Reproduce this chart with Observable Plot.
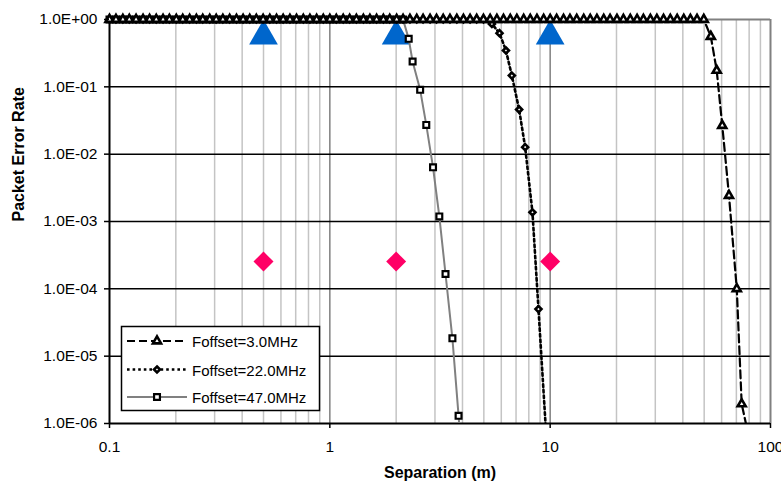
<!DOCTYPE html>
<html><head><meta charset="utf-8">
<script src="https://cdn.jsdelivr.net/npm/d3@7"></script>
<script src="https://cdn.jsdelivr.net/npm/@observablehq/plot@0.6"></script>
<style>
html,body{margin:0;padding:0;background:#fff;overflow:hidden;}
#chart{width:781px;height:486px;position:relative;}
</style></head><body><div id="chart"></div>
<script>
// ---- axis ticks and labels ----
const xTicks = [0.1, 1, 10, 100];
const xTickLabels = ["0.1", "1", "10", "100"];
const xMinor = [0.2,0.3,0.4,0.5,0.6,0.7,0.8,0.9, 2,3,4,5,6,7,8,9, 20,30,40,50,60,70,80,90];
const xMajorGrid = [1, 10];
const yTicks = [1e-6, 1e-5, 1e-4, 1e-3, 1e-2, 1e-1, 1];
const yTickLabels = ["1.0E-06","1.0E-05","1.0E-04","1.0E-03","1.0E-02","1.0E-01","1.0E+00"];
const yGrid = [1e-5, 1e-4, 1e-3, 1e-2, 1e-1];

// ---- series: Foffset = 3.0 MHz ----
const sep3MHz = [0.1,0.107,0.115,0.123,0.132,0.142,0.152,0.163,0.175,0.187,
  0.201,0.215,0.231,0.248,0.265,0.285,0.305,0.327,0.351,0.377,
  0.404,0.433,0.464,0.498,0.534,0.573,0.614,0.659,0.706,0.758,
  0.812,0.871,0.934,1.0,1.07,1.15,1.23,1.32,1.42,1.52,
  1.63,1.75,1.87,2.01,2.15,2.31,2.48,2.65,2.85,3.05,
  3.27,3.51,3.77,4.04,4.33,4.64,4.98,5.34,5.73,6.14,
  6.59,7.06,7.58,8.12,8.71,9.34,10.0,10.7,11.5,12.3,
  13.2,14.2,15.2,16.3,17.5,18.7,20.1,21.5,23.1,24.8,
  26.5,28.5,30.5,32.7,35.1,37.7,40.4,43.3,46.4,49.8,
  53.6,57.0,60.4,64.8,70.3,74.0,79.2];
const per3MHz = [1,1,1,1,1,1,1,1,1,1,
  1,1,1,1,1,1,1,1,1,1,
  1,1,1,1,1,1,1,1,1,1,
  1,1,1,1,1,1,1,1,1,1,
  1,1,1,1,1,1,1,1,1,1,
  1,1,1,1,1,1,1,1,1,1,
  1,1,1,1,1,1,1,1,1,1,
  1,1,1,1,1,1,1,1,1,1,
  1,1,1,1,1,1,1,1,1,1,
  0.559,0.175,0.0266,0.00243,1.0e-4,1.95e-6,7e-7];

// ---- series: Foffset = 22.0 MHz ----
const sep22MHz = [0.1,0.107,0.115,0.123,0.132,0.142,0.152,0.163,0.175,0.187,
  0.201,0.215,0.231,0.248,0.265,0.285,0.305,0.327,0.351,0.377,
  0.404,0.433,0.464,0.498,0.534,0.573,0.614,0.659,0.706,0.758,
  0.812,0.871,0.934,1.0,1.07,1.15,1.23,1.32,1.42,1.52,
  1.63,1.75,1.87,2.01,2.15,2.31,2.48,2.65,2.85,3.05,
  3.27,3.51,3.77,4.04,4.33,4.64,4.98,
  5.44,5.89,6.30,6.70,7.23,7.70,8.31,8.85,9.65];
const per22MHz = [1,1,1,1,1,1,1,1,1,1,
  1,1,1,1,1,1,1,1,1,1,
  1,1,1,1,1,1,1,1,1,1,
  1,1,1,1,1,1,1,1,1,1,
  1,1,1,1,1,1,1,1,1,1,
  1,1,1,1,1,1,1,
  0.86,0.626,0.346,0.147,0.046,0.0127,1.37e-3,5.0e-5,5e-7];

// ---- series: Foffset = 47.0 MHz ----
const sep47MHz = [0.1,0.107,0.115,0.123,0.132,0.142,0.152,0.163,0.175,0.187,
  0.201,0.215,0.231,0.248,0.265,0.285,0.305,0.327,0.351,0.377,
  0.404,0.433,0.464,0.498,0.534,0.573,0.614,0.659,0.706,0.758,
  0.812,0.871,0.934,1.0,1.07,1.15,1.23,1.32,1.42,1.52,
  1.63,1.75,1.87,2.01,2.15,
  2.28,2.375,2.57,2.74,2.94,3.14,3.35,3.60,3.84,4.11];
const per47MHz = [1,1,1,1,1,1,1,1,1,1,
  1,1,1,1,1,1,1,1,1,1,
  1,1,1,1,1,1,1,1,1,1,
  1,1,1,1,1,1,1,1,1,1,
  1,1,1,1,1,
  0.516,0.238,0.0902,0.0272,0.00638,0.00119,1.66e-4,1.84e-5,1.3e-6,7e-8];

// ---- extra markers ----
const blueSep = [0.5, 2, 10];
const bluePer = [0.567, 0.567, 0.567];
const pinkSep = [0.5, 2, 10];
const pinkPer = [2.54e-4, 2.54e-4, 2.54e-4];

const seriesNames = ["Foffset=3.0MHz", "Foffset=22.0MHz", "Foffset=47.0MHz"];

const toRows = (xs, ys) => xs.map((x, i) => ({sep: x, per: ys[i]}));
const s1 = toRows(sep3MHz, per3MHz);
const s2 = toRows(sep22MHz, per22MHz);
const s3 = toRows(sep47MHz, per47MHz);
const blue = toRows(blueSep, bluePer);
const pink = toRows(pinkSep, pinkPer);
const visible = d => d.per >= 1e-6;

const styles = [
  {stroke: "black", strokeWidth: 2.2, dash: "8,4", symbol: "triangle", r: 3.0, mw: 2.6},
  {stroke: "black", strokeWidth: 2.6, dash: "2.6,3", symbol: "diamond2", r: 2.7, mw: 2.6},
  {stroke: "#808080", strokeWidth: 2, dash: null, symbol: "square", r: 3.3, mw: 2.2}
];

const chart = Plot.plot({
  width: 781, height: 486,
  marginLeft: 109, marginRight: 11, marginTop: 19, marginBottom: 63,
  x: {type: "log", domain: [0.1, 100]},
  y: {type: "log", domain: [1e-6, 1]},
  style: {fontFamily: "'Liberation Sans', Arial, sans-serif", fontSize: "15.5px", color: "black", background: "white"},
  marks: [
    Plot.ruleX(xMinor, {stroke: "#c4c4c4", strokeWidth: 1.5}),
    Plot.ruleX(xMajorGrid, {stroke: "#808080", strokeWidth: 1.5}),
    Plot.ruleY(yGrid, {stroke: "black", strokeWidth: 1.5}),
    Plot.ruleX([100], {stroke: "#808080", strokeWidth: 2}),
    Plot.ruleY([1], {stroke: "#808080", strokeWidth: 2}),
    Plot.ruleX([0.1], {stroke: "black", strokeWidth: 2}),
    Plot.ruleY([1e-6], {stroke: "black", strokeWidth: 2}),
    Plot.dot(blue, {x: "sep", y: "per", symbol: "triangle", r: 10.67, fill: "#0066CC", stroke: "none"}),
    Plot.dot(pink, {x: "sep", y: "per", symbol: "diamond2", r: 9, fill: "#FF0066", stroke: "none"}),
    ...[s3, s2, s1].map((s, k) => {
      const st = styles[2 - k];
      return Plot.line(s, {x: "sep", y: "per", stroke: st.stroke, strokeWidth: st.strokeWidth, strokeDasharray: st.dash, clip: true});
    }),
    ...[s3, s2, s1].map((s, k) => {
      const st = styles[2 - k];
      return Plot.dot(s, {x: "sep", y: "per", filter: visible, symbol: st.symbol, r: st.r, fill: "white", stroke: "black", strokeWidth: st.mw});
    }),
    Plot.axisX({ticks: xTicks, tickFormat: d => xTickLabels[xTicks.indexOf(d)], tickSize: 5, tickPadding: 12, label: null, stroke: "black", strokeWidth: 1.5}),
    Plot.axisY({ticks: yTicks, tickFormat: d => yTickLabels[yTicks.indexOf(d)], tickSize: 5, tickPadding: 7, label: null, stroke: "black", strokeWidth: 1.5}),
    Plot.text(["Separation (m)"], {frameAnchor: "bottom", dy: 54, fontWeight: "bold", fontSize: 16}),
    Plot.text(["Packet Error Rate"], {frameAnchor: "left", dx: -91, rotate: -90, fontWeight: "bold", fontSize: 16})
  ]
});
document.getElementById("chart").appendChild(chart);

// ---- legend (drawn over the plot area, like the original) ----
const svg = d3.select(chart);
const lg = svg.append("g").attr("font-family", "'Liberation Sans', Arial, sans-serif").attr("font-size", 15).attr("text-anchor", "start");
lg.append("rect").attr("x", 121.5).attr("y", 326.5).attr("width", 198).attr("height", 84)
  .attr("fill", "white").attr("stroke", "black").attr("stroke-width", 1.5);
const rowY = [341, 369.5, 397];
const symbolMap = {triangle: d3.symbolTriangle, diamond2: d3.symbolDiamond2, square: d3.symbolSquare};
seriesNames.forEach((name, i) => {
  const st = styles[i];
  const y = rowY[i];
  lg.append("line").attr("x1", 127).attr("x2", 187).attr("y1", y).attr("y2", y)
    .attr("stroke", st.stroke).attr("stroke-width", st.strokeWidth)
    .attr("stroke-dasharray", st.dash);
  lg.append("path").attr("transform", `translate(157,${y})`)
    .attr("d", d3.symbol(symbolMap[st.symbol], Math.PI * st.r * st.r)())
    .attr("fill", "white").attr("stroke", "black").attr("stroke-width", st.mw);
  lg.append("text").attr("x", 192).attr("y", y + 6).attr("text-anchor", "start").attr("fill", "black").text(name);
});
</script></body></html>
